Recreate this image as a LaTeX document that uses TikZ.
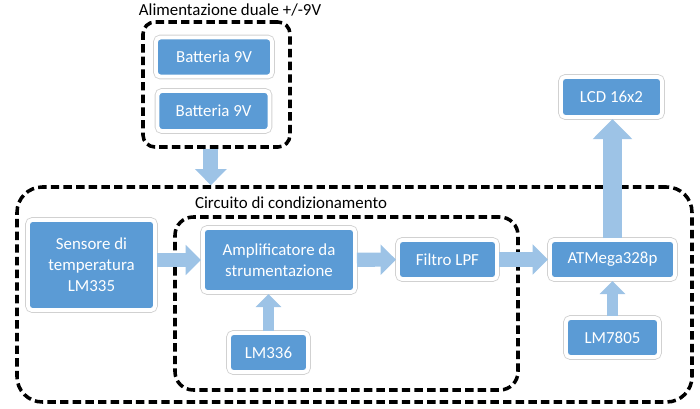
\documentclass[tikz,border=0pt]{standalone}
\usepackage{fontspec}
\setmainfont{Carlito}
\usetikzlibrary{arrows.meta, fit, positioning}
\definecolor{boxblue}{HTML}{5B9BD5}
\definecolor{flowblue}{HTML}{9DC3E6}
\begin{document}
\begin{tikzpicture}[x=0.025cm, y=-0.025cm,
        block/.style={rectangle, rounded corners=3pt, fill=boxblue, draw=white, line width=2.8pt,
            preaction={draw=black!18, line width=4pt}, text=white, align=center, inner sep=0pt,
            font=\fontsize{12pt}{15pt}\selectfont},
        group/.style={draw, line width=2.5pt, dash pattern=on 6pt off 3pt, inner sep=0pt},
        flow/.style={draw=flowblue, line width=#1, -{Triangle[width=0pt 2.1, length=0pt 1.1]}},
        flow/.default=10pt,
        caption/.style={font=\fontsize{12pt}{15pt}\selectfont}]
        \useasboundingbox (0,0) rectangle (700,409);
        \node[group, rounded corners=8.5pt, fit={(143,22) (290,147)}] (pwr) {};
        \node[group, rounded corners=18pt, fit={(17,187) (692,402)}] (cond) {};
        \node[group, rounded corners=13pt, fit={(175,217) (518,390)}] (amps) {};
        \node[caption] (ttl) at (230,10) {Alimentazione duale +/-9V};
        \node[caption] (lblcond) at (291,203) {Circuito di condizionamento};
        \node[block, minimum width=2.9cm, minimum height=0.975cm] (batta) at (214,57) {Batteria 9V};
        \node[block, minimum width=2.8cm, minimum height=1cm] (battb) at (213.5,111) {Batteria 9V};
        \node[block, minimum width=3.175cm, minimum height=2.25cm] (sens) at (91.5,265)
        {Sensore di\\temperatura\\LM335};
        \node[block, minimum width=3.8cm, minimum height=1.6cm] (amp) at (279,260)
        {Amplificatore da\\strumentazione};
        \node[block, minimum width=1.975cm, minimum height=0.975cm] (ref) at (268.5,352.5) {LM336};
        \node[block, minimum width=2.475cm, minimum height=0.975cm] (lpf) at (447.5,259.5) {Filtro LPF};
        \node[block, minimum width=3.125cm, minimum height=0.975cm] (mcu) at (612.5,259.5) {ATMega328p};
        \node[block, minimum width=2.525cm, minimum height=1cm] (lcd) at (611.5,97) {LCD 16x2};
        \node[block, minimum width=2.325cm, minimum height=0.975cm] (reg) at (612.5,337.5) {LM7805};
        \draw[flow=10.5pt] ([xshift=-4pt]pwr.south) -- ([xshift=-4pt]pwr.south |- cond.north);
        \draw[flow] (sens.east |- amp) -- (amp.west);
        \draw[flow=8.5pt] (ref.north) -- (ref.north |- amp.south);
        \draw[flow] (amp) -- (lpf);
        \draw[flow] (lpf) -- (mcu);
        \draw[flow=13pt] (mcu.north) -- (mcu.north |- lcd.south);
        \draw[flow=8.5pt] (reg) -- (mcu);
\end{tikzpicture}
\end{document}
